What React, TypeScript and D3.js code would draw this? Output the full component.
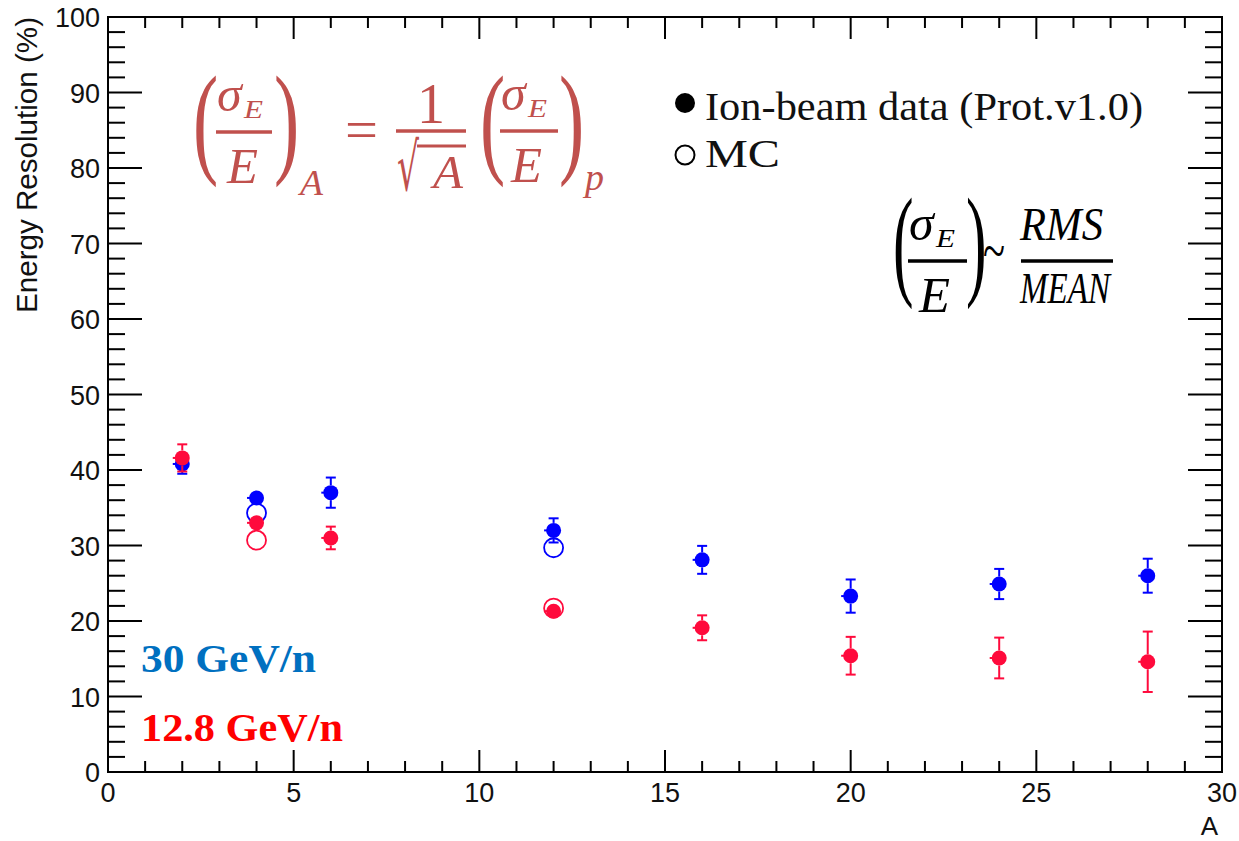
import React from "react";
import * as d3 from "d3";

// ---- data ----
const A_VALUES = [2, 4, 6, 12, 16, 20, 24, 28];
const BLUE_DATA = [40.8, 36.3, 37.0, 32.0, 28.1, 23.3, 24.9, 26.0];
const BLUE_ERR = [1.3, 0.5, 2.0, 1.6, 1.85, 2.2, 2.0, 2.25];
const RED_DATA = [41.6, 33.0, 31.0, 21.3, 19.1, 15.4, 15.1, 14.6];
const RED_ERR = [1.8, 0.5, 1.5, 0.5, 1.65, 2.5, 2.7, 4.0];
const MC_A = [4, 12];
const BLUE_MC = [34.3, 29.7];
const RED_MC = [30.7, 21.7];
const X_TICKS = [0, 5, 10, 15, 20, 25, 30];
const Y_TICKS = [0, 10, 20, 30, 40, 50, 60, 70, 80, 90, 100];

const W = 1239;
const H = 841;
const M = { left: 108, right: 1222, top: 17, bottom: 772 };

const BLUE = "#0000ff";
const RED = "#ff0a3c";
const FRED = "#c0504d";

const x = d3.scaleLinear().domain([0, 30]).range([M.left, M.right]);
const y = d3.scaleLinear().domain([0, 100]).range([M.bottom, M.top]);

const AX_FONT = "'Liberation Sans', Arial, sans-serif";
const SERIF = "'Liberation Serif', 'Times New Roman', serif";

function Series({ xs, vals, errs, color }: { xs: number[]; vals: number[]; errs: number[]; color: string }) {
  const r = 7.5;
  return (
    <g>
      {xs.map((a, i) => {
        const cx = x(a);
        const cy = y(vals[i]);
        const top = y(vals[i] + errs[i]);
        const bot = y(vals[i] - errs[i]);
        const show = cy - top > r;
        return (
          <g key={i}>
            {show && (
              <g stroke={color} strokeWidth={2}>
                <line x1={cx} x2={cx} y1={top} y2={cy - r} />
                <line x1={cx} x2={cx} y1={cy + r} y2={bot} />
                <line x1={cx - 5} x2={cx + 5} y1={top} y2={top} />
                <line x1={cx - 5} x2={cx + 5} y1={bot} y2={bot} />
              </g>
            )}
            <line x1={cx - r - 2} x2={cx} y1={cy} y2={cy} stroke={color} strokeWidth={2} />
            <circle cx={cx} cy={cy} r={r} fill={color} />
          </g>
        );
      })}
    </g>
  );
}

function MCSeries({ xs, vals, color }: { xs: number[]; vals: number[]; color: string }) {
  return (
    <g>
      {xs.map((a, i) => (
        <circle key={i} cx={x(a)} cy={y(vals[i])} r={9.5} fill="none" stroke={color} strokeWidth={1.8} />
      ))}
    </g>
  );
}

function Paren({ ch, x0, top, bottom, sx, color }: { ch: string; x0: number; top: number; bottom: number; sx: number; color: string }) {
  const h = bottom - top;
  const fs = h / 0.86;
  const base = bottom - 0.2 * fs;
  return (
    <text
      transform={`translate(${x0},${base}) scale(${sx},1)`}
      fontFamily={SERIF}
      fontSize={fs}
      fill={color}
    >
      {ch}
    </text>
  );
}

function T({ x0, yb, fs, children, color, italic = true, len, anchor }: any) {
  return (
    <text
      x={x0}
      y={yb}
      fontFamily={SERIF}
      fontStyle={italic ? "italic" : "normal"}
      fontSize={fs}
      fill={color}
      textLength={len}
      lengthAdjust={len ? "spacingAndGlyphs" : undefined}
      textAnchor={anchor}
    >
      {children}
    </text>
  );
}

function SigmaOverE({ bx, bw, barY, color }: { bx: number; bw: number; barY: number; color: string }) {
  return (
    <g>
      <T x0={bx + 1} yb={barY - 21} fs={50} color={color}>σ</T>
      <T x0={bx + 28} yb={barY - 14} fs={25} color={color} len={19}>E</T>
      <line x1={bx} x2={bx + bw} y1={barY} y2={barY} stroke={color} strokeWidth={3.5} />
      <T x0={bx + 11} yb={barY + 51} fs={51} color={color} len={31}>E</T>
    </g>
  );
}

export default function App() {
  const xMinor = d3.range(0, 31, 1);
  const yMinor = d3.range(0, 101, 2);
  return (
    <svg width={W} height={H} style={{ position: "fixed", left: 0, top: 0, background: "#fff" }}>
      <rect x={0} y={0} width={W} height={H} fill="#fff" />
      {/* ticks */}
      <g stroke="#000" strokeWidth={2}>
        {xMinor.map((v) => {
          const major = v % 5 === 0;
          const len = major ? 22 : 11;
          return (
            <g key={"x" + v}>
              <line x1={x(v)} x2={x(v)} y1={M.bottom} y2={M.bottom - len} />
              <line x1={x(v)} x2={x(v)} y1={M.top} y2={M.top + len} />
            </g>
          );
        })}
        {yMinor.map((v) => {
          const major = v % 10 === 0;
          const len = major ? 34 : 17;
          return (
            <g key={"y" + v}>
              <line x1={M.left} x2={M.left + len} y1={y(v)} y2={y(v)} />
              <line x1={M.right} x2={M.right - len} y1={y(v)} y2={y(v)} />
            </g>
          );
        })}
      </g>
      <rect x={M.left} y={M.top} width={M.right - M.left} height={M.bottom - M.top} fill="none" stroke="#000" strokeWidth={2} />
      {/* tick labels */}
      <g fontFamily={AX_FONT} fontSize={27} fill="#111">
        {X_TICKS.map((v) => (
          <text key={"xl" + v} x={x(v)} y={802} textAnchor="middle">{v}</text>
        ))}
        {Y_TICKS.map((v) => (
          <text key={"yl" + v} x={100} y={y(v) + 10} textAnchor="end">{v}</text>
        ))}
      </g>
      <text
        transform={`translate(37,17) rotate(-90)`}
        textAnchor="end"
        fontFamily={AX_FONT}
        fontSize={29}
        fill="#111"
        textLength={296}
        lengthAdjust="spacingAndGlyphs"
      >
        Energy Resolution (%)
      </text>
      <text x={1218} y={835} textAnchor="end" fontFamily={AX_FONT} fontSize={26} fill="#111">A</text>

      {/* data */}
      <MCSeries xs={MC_A} vals={BLUE_MC} color={BLUE} />
      <Series xs={A_VALUES} vals={BLUE_DATA} errs={BLUE_ERR} color={BLUE} />
      <Series xs={A_VALUES} vals={RED_DATA} errs={RED_ERR} color={RED} />
      <MCSeries xs={MC_A} vals={RED_MC} color={RED} />

      {/* legend */}
      <circle cx={685} cy={103} r={10} fill="#000" />
      <text x={705} y={120} fontFamily={SERIF} fontSize={40} fill="#111" textLength={438} lengthAdjust="spacingAndGlyphs">
        Ion-beam data (Prot.v1.0)
      </text>
      <circle cx={685} cy={155} r={9.5} fill="none" stroke="#000" strokeWidth={2} />
      <text x={705} y={167} fontFamily={SERIF} fontSize={40} fill="#111" textLength={75} lengthAdjust="spacingAndGlyphs">
        MC
      </text>

      {/* formula 1 */}
      <g>
        <Paren ch="(" x0={193} top={80} bottom={185} sx={0.62} color={FRED} />
        <SigmaOverE bx={216} bw={56} barY={132} color={FRED} />
        <Paren ch=")" x0={274} top={80} bottom={185} sx={0.62} color={FRED} />
        <T x0={300} yb={195} fs={35} color={FRED} len={23}>A</T>
        <T x0={345} yb={149} fs={56} color={FRED} italic={false} len={33}>=</T>
        <T x0={431} yb={123} fs={56} color={FRED} italic={false} anchor="middle">1</T>
        <line x1={396} x2={466} y1={131} y2={131} stroke={FRED} strokeWidth={3.5} />
        <text x={397} y={190} fontFamily="'DejaVu Serif', serif" fontSize={66} fill={FRED} textLength={22} lengthAdjust="spacingAndGlyphs">√</text>
        <line x1={417} x2={466} y1={146} y2={146} stroke={FRED} strokeWidth={3} />
        <T x0={433} yb={188} fs={47} color={FRED} len={30}>A</T>
        <Paren ch="(" x0={480} top={80} bottom={185} sx={0.62} color={FRED} />
        <SigmaOverE bx={500} bw={58} barY={131} color={FRED} />
        <Paren ch=")" x0={559} top={80} bottom={185} sx={0.62} color={FRED} />
        <T x0={585} yb={190} fs={38} color={FRED}>p</T>
      </g>

      {/* formula 2 */}
      <g>
        <Paren ch="(" x0={893} top={202} bottom={308} sx={0.5} color="#000" />
        <SigmaOverE bx={908} bw={59} barY={261} color="#000" />
        <Paren ch=")" x0={966} top={202} bottom={308} sx={0.5} color="#000" />
        <T x0={983} yb={270} fs={56} color="#000" italic={false} len={22}>~</T>
        <T x0={1020} yb={240} fs={46} color="#000" len={83}>RMS</T>
        <line x1={1021} x2={1113} y1={261} y2={261} stroke="#000" strokeWidth={3.5} />
        <T x0={1020} yb={303} fs={44} color="#000" len={90}>MEAN</T>
      </g>

      {/* energy labels */}
      <text x={141} y={672} fontFamily={SERIF} fontWeight="bold" fontSize={39} fill="#0070c0" textLength={175} lengthAdjust="spacingAndGlyphs">
        30 GeV/n
      </text>
      <text x={141} y={741} fontFamily={SERIF} fontWeight="bold" fontSize={39} fill="#ff0000" textLength={202} lengthAdjust="spacingAndGlyphs">
        12.8 GeV/n
      </text>
    </svg>
  );
}
